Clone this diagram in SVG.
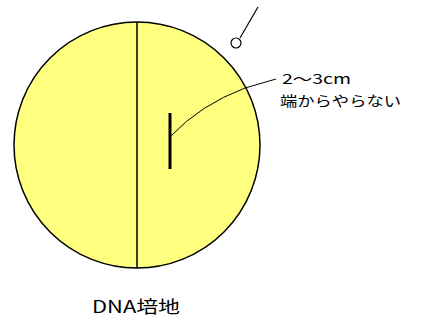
<svg xmlns="http://www.w3.org/2000/svg" width="429" height="320" viewBox="0 0 429 320">
<style>
.t{font-family:"Noto Sans CJK JP","Liberation Sans",sans-serif;fill:#000}
.ln{stroke:#000;fill:none}
</style>
<rect width="429" height="320" fill="#fff"/>
<g id="dish">
<circle cx="137" cy="145" r="123" fill="#ffff80" stroke="#000" stroke-width="1.5"/>
<line class="ln" x1="137" y1="22" x2="137" y2="268" stroke-width="1.5"/>
</g>
<g id="streak">
<line class="ln" x1="170" y1="113" x2="170" y2="169" stroke-width="3"/>
</g>
<g id="loop">
<line class="ln" x1="258" y1="7" x2="240" y2="38" stroke-width="1.2"/>
<circle cx="236" cy="43" r="5" fill="#fff" stroke="#000" stroke-width="1.2"/>
</g>
<g id="connectors">
<path class="ln" d="M171,136 Q200,105 245,88 L276,79" stroke-width="1"/>
</g>
<g id="label">
<text class="t" x="282" y="84" font-size="14" textLength="69" lengthAdjust="spacingAndGlyphs">2～3cm</text>
<text class="t" x="280" y="106" font-size="14" textLength="121" lengthAdjust="spacingAndGlyphs">端からやらない</text>
</g>
<g id="caption">
<text class="t" x="92" y="313" font-size="17" textLength="88" lengthAdjust="spacingAndGlyphs">DNA培地</text>
</g>
</svg>
